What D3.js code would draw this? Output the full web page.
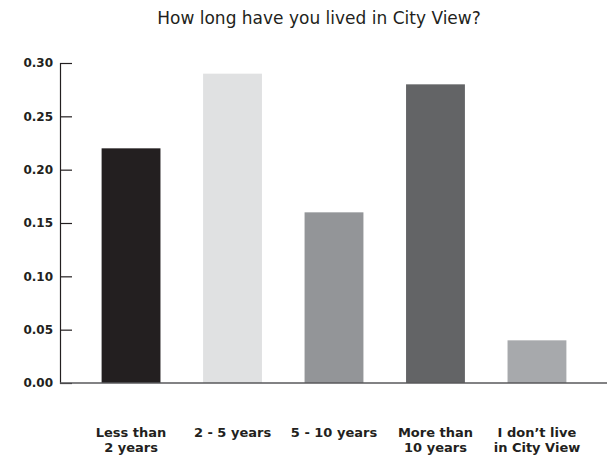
<!DOCTYPE html>
<html>
<head>
<meta charset="utf-8">
<script src="https://cdn.jsdelivr.net/npm/d3@7"></script>
<style>
  body { margin: 0; background: #fff; }
  text { font-family: "DejaVu Sans", sans-serif; }
</style>
</head>
<body>
<div id="chart"></div>
<script>
const categories = [['Less than', '2 years'], ['2 - 5 years'], ['5 - 10 years'], ['More than', '10 years'], ['I don\u2019t live', 'in City View']]
const values = [0.22, 0.29, 0.16, 0.28, 0.04]
const barColors = ['#231f20', '#e0e1e2', '#939598', '#636466', '#a7a9ac']
const yTicks = [0, 0.05, 0.10, 0.15, 0.20, 0.25, 0.30]
const title = 'How long have you lived in City View?'

const width = 608
const height = 459
const svg = d3.select('#chart')
    .append('svg')
    .attr('width', width)
    .attr('height', height)

const xScale = d3.scaleBand()
    .domain(d3.range(values.length))
    .range([60, 608])
    .paddingInner(0.42)
    .paddingOuter(0.41)

const yScale = d3.scaleLinear()
    .domain([0, 0.30])
    .range([383, 63])

/* bars */
svg.selectAll('rect.bar')
    .data(values)
    .enter()
    .append('rect')
    .attr('class', 'bar')
    .attr('x', (d, i) => xScale(i))
    .attr('y', d => yScale(d))
    .attr('width', xScale.bandwidth())
    .attr('height', d => yScale(0) - yScale(d))
    .attr('fill', (d, i) => barColors[i])

/* y axis, ticks pointing inward */
const yAxis = d3.axisRight(yScale)
    .tickValues(yTicks)
    .tickSize(12)
    .tickFormat(d3.format('.2f'))

const yG = svg.append('g')
    .attr('transform', 'translate(60,0)')
    .call(yAxis)
yG.select('.domain').attr('stroke', '#231f20').attr('stroke-width', 1.2)
yG.selectAll('.tick line').attr('stroke', '#231f20').attr('stroke-width', 1.2)
yG.selectAll('.tick text')
    .attr('x', -7)
    .attr('text-anchor', 'end')
    .attr('fill', '#231f20')
    .style('font-size', '12px')
    .style('font-weight', 'bold')

/* x baseline */
svg.append('line')
    .attr('x1', 60)
    .attr('x2', 607)
    .attr('y1', yScale(0))
    .attr('y2', yScale(0))
    .attr('stroke', '#58595b')
    .attr('stroke-width', 1.5)

/* x labels */
const xLabels = svg.selectAll('text.xlabel')
    .data(categories)
    .enter()
    .append('text')
    .attr('class', 'xlabel')
    .attr('x', (d, i) => xScale(i) + xScale.bandwidth() / 2)
    .attr('y', 437)
    .attr('text-anchor', 'middle')
    .attr('fill', '#231f20')
    .style('font-size', '13px')
    .style('font-weight', 'bold')

xLabels.selectAll('tspan')
    .data(d => d)
    .enter()
    .append('tspan')
    .attr('x', function () { return d3.select(this.parentNode).attr('x') })
    .attr('dy', (d, i) => i === 0 ? 0 : 15)
    .text(d => d)

/* title */
svg.append('text')
    .text(title)
    .attr('x', 319)
    .attr('y', 24)
    .attr('text-anchor', 'middle')
    .attr('fill', '#231f20')
    .style('font-size', '17px')
</script>
</body>
</html>
